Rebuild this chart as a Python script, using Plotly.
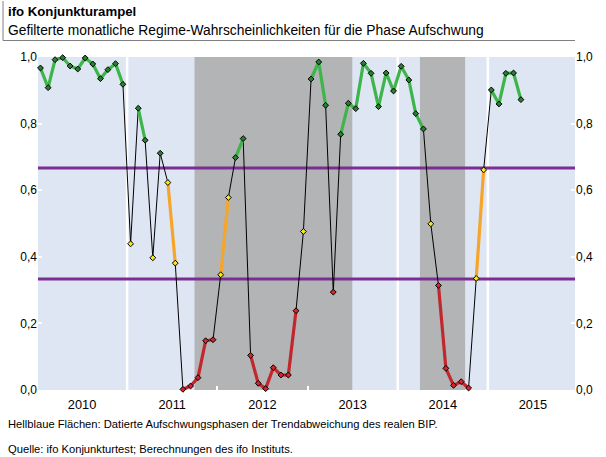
import pandas as pd
import plotly.graph_objects as go

# ---------------- data ----------------
start_month = "2010-01-01"
values = [0.967, 0.908, 0.992, 0.998, 0.973, 0.964, 0.997, 0.979, 0.935, 0.962, 0.980, 0.918,
          0.439, 0.846, 0.750, 0.397, 0.711, 0.623, 0.381, 0.002, 0.012, 0.037, 0.148, 0.151,
          0.346, 0.578, 0.698, 0.755, 0.104, 0.020, 0.004, 0.067, 0.045, 0.045, 0.238, 0.476,
          0.934, 0.985, 0.855, 0.294, 0.768, 0.861, 0.845, 0.981, 0.951, 0.851, 0.952, 0.898,
          0.972, 0.931, 0.830, 0.784, 0.499, 0.314, 0.065, 0.014, 0.025, 0.006, 0.335, 0.661,
          0.901, 0.859, 0.951, 0.952, 0.872]
thresholds = [1/3, 2/3]
gray_phases = [("2011-10-01", "2013-07-01"), ("2014-04-01", "2014-10-01")]
year_bounds = ["2011-01-01", "2012-01-01", "2013-01-01", "2014-01-01", "2015-01-01"]
y_ticks = [0.0, 0.2, 0.4, 0.6, 0.8, 1.0]

title = "ifo Konjunkturampel"
subtitle = "Gefilterte monatliche Regime-Wahrscheinlichkeiten für die Phase Aufschwung"
note1 = "Hellblaue Flächen: Datierte Aufschwungsphasen der Trendabweichung des realen BIP."
note2 = "Quelle: ifo Konjunkturtest; Berechnungen des ifo Instituts."

# ---------------- styles ----------------
BLUE_BG = "#dfe6f3"
GRAY = "#b2b4b5"
PURPLE = "#7a2e92"
LINE_COL = {"H": "#3db54a", "M": "#f6a52a", "L": "#c1272d"}
MARK_COL = {"H": "#2a7d35", "M": "#f4e71c", "L": "#d0262d"}
FONT = "Liberation Sans, Arial, sans-serif"

dates = pd.date_range(start_month, periods=len(values), freq="MS") + pd.Timedelta(days=14)


def regime(v):
    if v >= thresholds[1]:
        return "H"
    if v >= thresholds[0]:
        return "M"
    return "L"


regs = [regime(v) for v in values]

fig = go.Figure()

# threshold lines
for t in thresholds:
    fig.add_trace(go.Scatter(x=[pd.Timestamp("2009-12-01"), pd.Timestamp("2016-02-01")], y=[t, t],
                             mode="lines", line=dict(color=PURPLE, width=3),
                             hoverinfo="skip", showlegend=False))

# thin black connecting line
fig.add_trace(go.Scatter(x=dates, y=values, mode="lines",
                         line=dict(color="black", width=1), showlegend=False, cliponaxis=False))

# coloured segments within a regime
for r in ["H", "M", "L"]:
    xs, ys = [], []
    for i in range(len(values) - 1):
        if regs[i] == r and regs[i + 1] == r:
            xs += [dates[i], dates[i + 1], None]
            ys += [values[i], values[i + 1], None]
    fig.add_trace(go.Scatter(x=xs, y=ys, mode="lines",
                             line=dict(color=LINE_COL[r], width=3.2),
                             showlegend=False, cliponaxis=False))

# markers
fig.add_trace(go.Scatter(x=dates, y=values, mode="markers",
                         marker=dict(symbol="diamond", size=4.5,
                                     color=[MARK_COL[r] for r in regs],
                                     line=dict(color="black", width=1)),
                         showlegend=False, cliponaxis=False))

# secondary axis for right labels
fig.add_trace(go.Scatter(x=[dates[0]], y=[None], yaxis="y2", showlegend=False, hoverinfo="skip"))

shapes = []
# white year separators
for yb in year_bounds:
    shapes.append(dict(type="line", xref="x", yref="paper", x0=yb, x1=yb, y0=0, y1=1,
                       line=dict(color="white", width=2.5), layer="below"))
# gray phases
for a, b in gray_phases:
    shapes.append(dict(type="rect", xref="x", yref="paper", x0=a, x1=b, y0=0, y1=1,
                       fillcolor=GRAY, line=dict(width=0), layer="below"))

# header frame
L, R, T, B = 38, 31, 57, 67
W, H = 606, 457
pw, ph = W - L - R, H - T - B


def px(x):
    return (x - L) / pw


def py(y):
    return (H - B - y) / ph


shapes.append(dict(type="line", xref="paper", yref="paper", x0=px(3), x1=px(3), y0=py(1), y1=py(40.5),
                   line=dict(color="#7f7f7f", width=1)))
shapes.append(dict(type="line", xref="paper", yref="paper", x0=px(3), x1=px(575), y0=py(40.5), y1=py(40.5),
                   line=dict(color="#7f7f7f", width=1)))

annotations = [
    dict(text="<b>" + title + "</b>", x=px(6), y=py(11), xref="paper", yref="paper",
         xanchor="left", yanchor="middle", showarrow=False, font=dict(size=13.2, color="black", family=FONT)),
    dict(text=subtitle, x=px(6), y=py(31), xref="paper", yref="paper",
         xanchor="left", yanchor="middle", showarrow=False, font=dict(size=13.8, color="black", family=FONT)),
    dict(text=note1, x=px(6), y=py(424), xref="paper", yref="paper",
         xanchor="left", yanchor="middle", showarrow=False, font=dict(size=11.2, color="black", family=FONT)),
    dict(text=note2, x=px(6), y=py(449), xref="paper", yref="paper",
         xanchor="left", yanchor="middle", showarrow=False, font=dict(size=11.2, color="black", family=FONT)),
]

yaxis_common = dict(range=[0, 1], tickvals=y_ticks, tickformat=".1f", showgrid=False, zeroline=False,
                    showline=False, ticks="inside", ticklen=4, tickwidth=1.5, tickcolor="white",
                    tickfont=dict(size=12, color="black", family=FONT), fixedrange=True)

fig.update_layout(
    width=W, height=H,
    margin=dict(l=L, r=R, t=T, b=B, autoexpand=False),
    paper_bgcolor="white", plot_bgcolor=BLUE_BG,
    separators=",.",
    font=dict(family=FONT, color="black"),
    xaxis=dict(type="date", range=["2010-01-05", "2015-12-20"], tick0="2010-01-01", dtick="M12",
               tickformat="%Y", ticklabelmode="period", showgrid=False, zeroline=False, showline=False,
               ticks="inside", ticklen=4, tickwidth=2, tickcolor="white", ticklabelstandoff=5,
               tickfont=dict(size=12.8, color="black", family=FONT)),
    yaxis=dict(**yaxis_common, side="left"),
    yaxis2=dict(**yaxis_common, side="right", overlaying="y"),
    shapes=shapes,
    annotations=annotations,
    showlegend=False,
)

fig.write_html("out.html", config={"displayModeBar": False},
               post_script="document.body.style.margin='0';document.body.style.padding='0';")
